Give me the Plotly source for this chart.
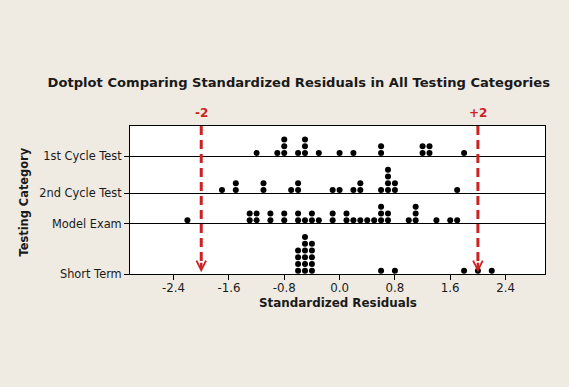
import plotly.graph_objects as go
from collections import Counter

# ---------------- data ----------------
categories = ["Short Term", "Model Exam", "2nd Cycle Test", "1st Cycle Test"]  # bottom -> top

short_term = [-0.6]*4 + [-0.5]*6 + [-0.4]*5 + [0.6, 0.8, 1.8, 2.0, 2.2]
model_exam = [-2.2, -1.3, -1.3, -1.2, -1.2, -1.0, -1.0, -0.8, -0.8, -0.6, -0.6, -0.5,
              -0.4, -0.4, -0.3, -0.1, -0.1, 0.1, 0.1, 0.2, 0.3, 0.4, 0.5,
              0.6, 0.6, 0.6, 0.7, 0.7, 1.0, 1.1, 1.1, 1.1, 1.4, 1.6, 1.7]
cycle2 = [-1.7, -1.5, -1.5, -1.1, -1.1, -0.7, -0.6, -0.6, -0.1, 0.0, 0.2, 0.3, 0.3,
          0.6, 0.7, 0.7, 0.7, 0.7, 0.8, 0.8, 1.7]
cycle1 = [-1.2, -0.9, -0.8, -0.8, -0.8, -0.6, -0.5, -0.5, -0.5, -0.3, 0.0, 0.2,
          0.6, 0.6, 1.2, 1.2, 1.3, 1.3, 1.8]
series = [short_term, model_exam, cycle2, cycle1]

x_ticks = [-2.4, -1.6, -0.8, 0.0, 0.8, 1.6, 2.4]
x_tick_labels = ["-2.4", "-1.6", "-0.8", "0.0", "0.8", "1.6", "2.4"]
ref_lines = [-2, 2]
ref_labels = ["-2", "+2"]

# ---------------- dotplot layout (stacking) ----------------
PAD = 1.5
counts = [Counter(round(v, 1) for v in s) for s in series]
max_stack = [max(c.values()) for c in counts]
baselines = []
b = 0.0
for k in range(len(series)):
    baselines.append(b)
    b += max_stack[k] + PAD
y_top = b

RED = "#CC2222"
FONT = "DejaVu Sans"
BG = "#EFEBE2"
TXT = "#1a1a1a"

fig = go.Figure()
for k, s in enumerate(series):
    seen = Counter()
    xs, ys = [], []
    for v in s:
        key = round(v, 1)
        xs.append(v)
        ys.append(baselines[k] + 0.5 + seen[key])
        seen[key] += 1
    fig.add_trace(go.Scatter(x=xs, y=ys, mode="markers", name=categories[k],
                             marker=dict(color="black", size=6, line=dict(width=0)),
                             showlegend=False, hoverinfo="x"))

shapes = []
annotations = []
for xv, lab in zip(ref_lines, ref_labels):
    shapes.append(dict(type="line", xref="x", yref="paper", x0=xv, x1=xv,
                       y0=1.0, y1=0.081,
                       line=dict(color=RED, width=3, dash="9px,5px")))
    annotations.append(dict(x=xv, y=0.25, xref="x", yref="y", text="", showarrow=True,
                            ax=0, ay=-11, arrowhead=5, arrowsize=0.75, arrowwidth=2.5,
                            arrowcolor=RED))
    annotations.append(dict(x=xv, y=1.088, xref="x", yref="paper", text="<b>%s</b>" % lab,
                            showarrow=False, font=dict(family=FONT, size=12, color=RED),
                            xanchor="center", yanchor="middle"))

annotations.append(dict(x=(338.0 - 130) / 415, y=(274 - 303) / 148, xref="paper", yref="paper",
                        text="<b>Standardized Residuals</b>", showarrow=False,
                        font=dict(family=FONT, size=11.9, color=TXT),
                        xanchor="center", yanchor="middle"))
annotations.append(dict(x=(23 - 130) / 415, y=(274 - 201.5) / 148, xref="paper", yref="paper",
                        text="<b>Testing Category</b>", showarrow=False, textangle=-90,
                        font=dict(family=FONT, size=11.4, color=TXT),
                        xanchor="center", yanchor="middle"))

fig.update_layout(
    width=569, height=387,
    margin=dict(l=130, r=24, t=126, b=113),
    paper_bgcolor=BG, plot_bgcolor="white",
    title=dict(text="<b>Dotplot Comparing Standardized Residuals in All Testing Categories</b>",
               x=298.8 / 569, xanchor="center", y=1 - 82 / 387, yanchor="middle",
               font=dict(family=FONT, size=13.1, color=TXT)),
    shapes=shapes, annotations=annotations,
    font=dict(family=FONT, size=11, color=TXT),
)
fig.update_xaxes(range=[-3.03, 2.97], tickvals=x_ticks, ticktext=x_tick_labels,
                 showgrid=False, zeroline=False, showline=True, linecolor="black",
                 linewidth=1, mirror=True, ticks="outside", ticklen=5, tickcolor="black",
                 ticklabelstandoff=-2,
                 tickfont=dict(family=FONT, size=11.8, color=TXT))
fig.update_yaxes(range=[0, y_top], tickvals=baselines, ticktext=categories,
                 showgrid=True, gridcolor="black", gridwidth=1, zeroline=False,
                 showline=True, linecolor="black", linewidth=1, mirror=True,
                 ticks="outside", ticklen=5, tickcolor="black",
                 tickfont=dict(family=FONT, size=11.4, color=TXT))

fig.write_html("out.html", config={"displayModeBar": False},
               post_script="document.body.style.margin='0';")
